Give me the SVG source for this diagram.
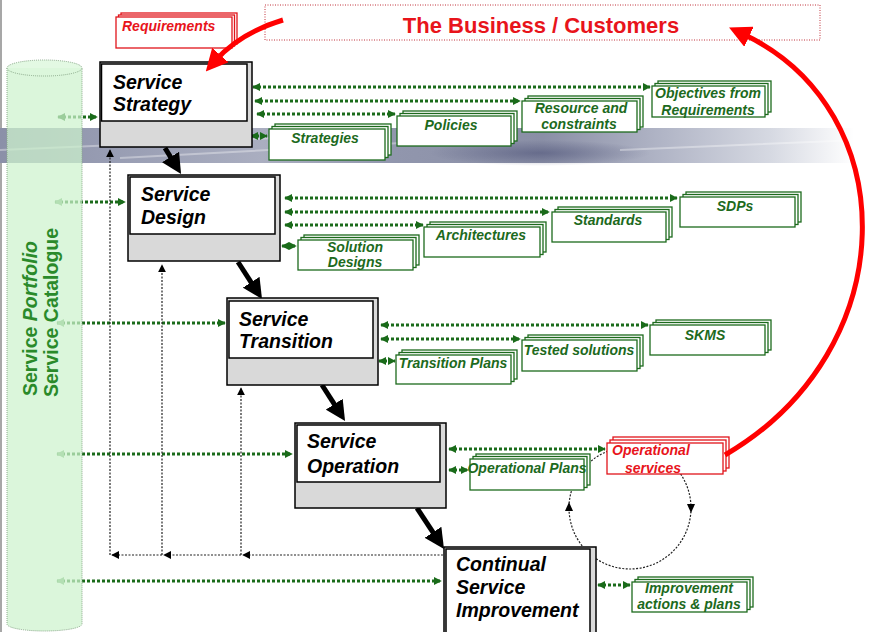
<svg xmlns="http://www.w3.org/2000/svg" width="876" height="632" viewBox="0 0 876 632">
<style>
.mo{fill:#d9d9d9;stroke:#000;stroke-width:1.5}
.mi{fill:#fff;stroke:#000;stroke-width:1.5}
.mt{font-family:"Liberation Sans",Arial,sans-serif;font-size:19.5px;font-weight:bold;font-style:italic;fill:#000}
.gb{fill:#fff;stroke:#1d6a1d;stroke-width:1.3}
.gt{font-family:"Liberation Sans",Arial,sans-serif;font-size:14px;font-weight:bold;font-style:italic;fill:#1d6a1d;text-anchor:middle}
.rb{fill:#fff;stroke:#e0141b;stroke-width:1.3}
.rt{font-family:"Liberation Sans",Arial,sans-serif;font-size:14px;font-weight:bold;font-style:italic;fill:#e8141b}
.gc{fill:none;stroke:#1a6b1a;stroke-width:3;stroke-dasharray:3 2}
.bc{fill:none;stroke:#222;stroke-width:1.2;stroke-dasharray:2 1.5}
.th{fill:none;stroke:#000;stroke-width:5}
.rc{fill:none;stroke:#f00;stroke-width:5}
.ct{font-family:"Liberation Sans",Arial,sans-serif;font-size:19.5px;font-weight:bold;fill:#2a8a2a}
</style>
<defs>
<linearGradient id="bandH" x1="0" y1="0" x2="1" y2="0">
<stop offset="0" stop-color="#8b90a8"/>
<stop offset="0.12" stop-color="#979cb2"/>
<stop offset="0.3" stop-color="#aaaec0"/>
<stop offset="0.45" stop-color="#9196ad"/>
<stop offset="0.62" stop-color="#8a8fa6"/>
<stop offset="0.76" stop-color="#b2b6c7"/>
<stop offset="0.88" stop-color="#d6d9e2"/>
<stop offset="0.975" stop-color="#ffffff"/>
</linearGradient>
<radialGradient id="blob" cx="0.5" cy="0.5" r="0.5">
<stop offset="0" stop-color="#50557a" stop-opacity="0.6"/>
<stop offset="1" stop-color="#50557a" stop-opacity="0"/>
</radialGradient>
<marker id="ga" viewBox="0 0 10 10" refX="9" refY="5" markerWidth="8" markerHeight="8" markerUnits="userSpaceOnUse" orient="auto-start-reverse"><path d="M0,0 L10,5 L0,10 Z" fill="#1a6b1a"/></marker>
<marker id="gl" viewBox="0 0 10 10" refX="9" refY="5" markerWidth="8" markerHeight="8" markerUnits="userSpaceOnUse" orient="auto-start-reverse"><path d="M0,0 L10,5 L0,10 Z" fill="#6fae6f"/></marker>
<marker id="ba" viewBox="0 0 10 10" refX="9" refY="5" markerWidth="8" markerHeight="8" markerUnits="userSpaceOnUse" orient="auto"><path d="M0,0 L10,5 L0,10 Z" fill="#000"/></marker>
<marker id="ta" viewBox="0 0 10 10" refX="3" refY="5" markerWidth="4" markerHeight="4" markerUnits="strokeWidth" orient="auto"><path d="M0,0 L10,5 L0,10 Z" fill="#000"/></marker>
<marker id="ra" viewBox="0 0 10 10" refX="3" refY="5" markerWidth="4.4" markerHeight="4.4" markerUnits="strokeWidth" orient="auto"><path d="M0,0 L10,5 L0,10 Z" fill="#f00"/></marker>
</defs>
<rect width="876" height="632" fill="#fff"/>
<line x1="1" y1="0" x2="1" y2="632" stroke="#8a8a8a" stroke-width="1.5"/>
<g id="band">
<rect x="0" y="128" width="876" height="35" fill="url(#bandH)"/>
<ellipse cx="540" cy="153" rx="110" ry="13" fill="url(#blob)"/>
<path d="M0 150 L300 137 M120 158 L420 142 M620 150 L860 140" stroke="#fff" stroke-opacity="0.35" stroke-width="2" fill="none"/>
</g>

<g id="connectors">
<g id="green-links">
<path class="gc" d="M253 87 H650" marker-start="url(#ga)" marker-end="url(#ga)"/>
<path class="gc" d="M255 101 H520" marker-start="url(#ga)" marker-end="url(#ga)"/>
<path class="gc" d="M257 114 H395" marker-start="url(#ga)" marker-end="url(#ga)"/>
<path class="gc" d="M251 136 H267" marker-start="url(#ga)" marker-end="url(#ga)"/>
<path class="gc" d="M285 198 H677" marker-start="url(#ga)" marker-end="url(#ga)"/>
<path class="gc" d="M285 212 H549" marker-start="url(#ga)" marker-end="url(#ga)"/>
<path class="gc" d="M285 225 H423" marker-start="url(#ga)" marker-end="url(#ga)"/>
<path class="gc" d="M282 246 H296" marker-start="url(#ga)" marker-end="url(#ga)"/>
<path class="gc" d="M381 325 H648" marker-start="url(#ga)" marker-end="url(#ga)"/>
<path class="gc" d="M381 339 H520" marker-start="url(#ga)" marker-end="url(#ga)"/>
<path class="gc" d="M379 361 H395" marker-start="url(#ga)" marker-end="url(#ga)"/>
<path class="gc" d="M449 449 H605" marker-start="url(#ga)" marker-end="url(#ga)"/>
<path class="gc" d="M449 470 H468" marker-start="url(#ga)" marker-end="url(#ga)"/>
<path class="gc" d="M598 585 H630" marker-start="url(#ga)" marker-end="url(#ga)"/>
<path class="gc" d="M58 117 H97" marker-start="url(#ga)" marker-end="url(#ga)"/>
<path class="gc" d="M55 202 H125" marker-start="url(#gl)" marker-end="url(#ga)"/>
<path class="gc" d="M57 323 H225" marker-start="url(#gl)" marker-end="url(#ga)"/>
<path class="gc" d="M57 454 H292" marker-start="url(#gl)" marker-end="url(#ga)"/>
<path class="gc" d="M57 581 H441" marker-start="url(#gl)" marker-end="url(#ga)"/>
</g>
<g id="feedback">
<path class="bc" d="M443 555 H243" marker-end="url(#ba)"/>
<path class="bc" d="M241 555 H164" marker-end="url(#ba)"/>
<path class="bc" d="M162 555 H112" marker-end="url(#ba)"/>
<path class="bc" d="M110 555 V150" marker-end="url(#ba)"/>
<path class="bc" d="M162 555 V265" marker-end="url(#ba)"/>
<path class="bc" d="M241 555 V388" marker-end="url(#ba)"/>
<circle class="bc" cx="630" cy="508" r="61"/>
<path d="M569 502 L565 511 L573 511 Z" fill="#000"/>
<path d="M691 513 L687 504 L695 504 Z" fill="#000"/>
</g>
<g id="flow">
<line class="th" x1="165" y1="148" x2="173.7" y2="162.1" marker-end="url(#ta)"/>
<line class="th" x1="238" y1="262" x2="254.4" y2="287.3" marker-end="url(#ta)"/>
<line class="th" x1="322" y1="385" x2="337.5" y2="409.2" marker-end="url(#ta)"/>
<line class="th" x1="417" y1="508" x2="436.3" y2="537.3" marker-end="url(#ta)"/>
</g>
</g>

<g id="cylinder">
<path d="M7 68 V624 A37.5 7 0 0 0 82 624 V68" fill="#cdf3cd" fill-opacity="0.72" stroke="#8aa88a" stroke-width="1" stroke-dasharray="1 1"/>
<ellipse cx="44.5" cy="68" rx="37.5" ry="8" fill="#dcf7dc" fill-opacity="0.8" stroke="#8aa88a" stroke-width="1" stroke-dasharray="1 1"/>
<text class="ct" transform="translate(37,396) rotate(-90)">Service <tspan font-style="italic">Portfolio</tspan></text>
<text class="ct" transform="translate(58,397) rotate(-90)">Service Catalogue</text>
</g>

<g id="business">
<rect x="265" y="5" width="555" height="35" fill="none" stroke="#c0303a" stroke-width="1" stroke-dasharray="1 1.5"/>
<text x="541" y="33" font-family="Liberation Sans, Arial, sans-serif" font-size="22" font-weight="bold" fill="#e8141b" text-anchor="middle">The Business / Customers</text>
</g>

<g id="requirements">
<rect class="rb" x="121" y="13" width="116" height="31"/>
<rect class="rb" x="118.5" y="15" width="116" height="31"/>
<rect class="rb" x="116" y="17" width="116" height="31"/>
<text class="rt" x="122" y="31">Requirements</text>
</g>

<g id="service-strategy">
<rect class="mo" x="100" y="62" width="152" height="85"/>
<rect class="mi" x="101.5" y="64" width="145.5" height="57"/>
<text class="mt" x="113" y="89">Service</text>
<text class="mt" x="113" y="111">Strategy</text>
</g>
<g id="service-design">
<rect class="mo" x="128" y="175" width="152" height="86"/>
<rect class="mi" x="130" y="177" width="145" height="57"/>
<text class="mt" x="141" y="201">Service</text>
<text class="mt" x="141" y="224">Design</text>
</g>
<g id="service-transition">
<rect class="mo" x="227" y="298" width="151" height="87"/>
<rect class="mi" x="229" y="301" width="144" height="57"/>
<text class="mt" x="239" y="326">Service</text>
<text class="mt" x="239" y="348">Transition</text>
</g>
<g id="service-operation">
<rect class="mo" x="295" y="423" width="151" height="85"/>
<rect class="mi" x="297" y="425" width="143" height="57"/>
<text class="mt" x="307" y="448">Service</text>
<text class="mt" x="307" y="473">Operation</text>
</g>
<g id="csi">
<rect class="mo" x="444" y="547" width="152" height="95"/>
<rect class="mi" x="446" y="549" width="144" height="90"/>
<text class="mt" x="456" y="571">Continual</text>
<text class="mt" x="456" y="594">Service</text>
<text class="mt" x="456" y="617">Improvement</text>
</g>

<g id="objectives">
<rect class="gb" x="658" y="81" width="113" height="31"/>
<rect class="gb" x="655" y="83.5" width="113" height="31"/>
<rect class="gb" x="652" y="86" width="113" height="31"/>
<text class="gt" x="708" y="98">Objectives from</text>
<text class="gt" x="708" y="115">Requirements</text>
</g>
<g id="resource">
<rect class="gb" x="528" y="96" width="115" height="31"/>
<rect class="gb" x="525" y="98.5" width="115" height="31"/>
<rect class="gb" x="522" y="101" width="115" height="31"/>
<text class="gt" x="581" y="113">Resource and</text>
<text class="gt" x="579" y="129">constraints</text>
</g>
<g id="policies">
<rect class="gb" x="403" y="111" width="114" height="30"/>
<rect class="gb" x="400" y="113.5" width="114" height="30"/>
<rect class="gb" x="397" y="116" width="114" height="30"/>
<text class="gt" x="451" y="130">Policies</text>
</g>
<g id="strategies">
<rect class="gb" x="275" y="124" width="116" height="31"/>
<rect class="gb" x="272" y="126.5" width="116" height="31"/>
<rect class="gb" x="269" y="129" width="116" height="31"/>
<text class="gt" x="325" y="143">Strategies</text>
</g>

<g id="sdps">
<rect class="gb" x="686" y="192" width="115" height="30"/>
<rect class="gb" x="683" y="194.5" width="115" height="30"/>
<rect class="gb" x="680" y="197" width="115" height="30"/>
<text class="gt" x="735" y="211">SDPs</text>
</g>
<g id="standards">
<rect class="gb" x="558" y="207" width="114" height="30"/>
<rect class="gb" x="555" y="209.5" width="114" height="30"/>
<rect class="gb" x="552" y="212" width="114" height="30"/>
<text class="gt" x="608" y="225">Standards</text>
</g>
<g id="architectures">
<rect class="gb" x="430" y="222" width="116" height="30"/>
<rect class="gb" x="427" y="224.5" width="116" height="30"/>
<rect class="gb" x="424" y="227" width="116" height="30"/>
<text class="gt" x="481" y="240">Architectures</text>
</g>
<g id="solution-designs">
<rect class="gb" x="304" y="235" width="115" height="30"/>
<rect class="gb" x="301" y="237.5" width="115" height="30"/>
<rect class="gb" x="298" y="240" width="115" height="30"/>
<text class="gt" x="355" y="252">Solution</text>
<text class="gt" x="355" y="267">Designs</text>
</g>

<g id="skms">
<rect class="gb" x="656" y="320" width="115" height="30"/>
<rect class="gb" x="653" y="322.5" width="115" height="30"/>
<rect class="gb" x="650" y="325" width="115" height="30"/>
<text class="gt" x="705" y="340">SKMS</text>
</g>
<g id="tested-solutions">
<rect class="gb" x="528" y="335" width="115" height="31"/>
<rect class="gb" x="525" y="337.5" width="115" height="31"/>
<rect class="gb" x="522" y="340" width="115" height="31"/>
<text class="gt" x="579" y="355">Tested solutions</text>
</g>
<g id="transition-plans">
<rect class="gb" x="402" y="350" width="115" height="29"/>
<rect class="gb" x="399" y="352.5" width="115" height="29"/>
<rect class="gb" x="396" y="355" width="115" height="29"/>
<text class="gt" x="453" y="368">Transition Plans</text>
</g>

<g id="operational-plans">
<rect class="gb" x="476" y="454" width="114" height="31"/>
<rect class="gb" x="473" y="456.5" width="114" height="31"/>
<rect class="gb" x="470" y="459" width="114" height="31"/>
<text class="gt" x="527" y="473">Operational Plans</text>
</g>
<g id="operational-services">
<rect class="rb" x="613" y="437" width="116" height="31"/>
<rect class="rb" x="610" y="440" width="116" height="31"/>
<rect class="rb" x="607" y="443" width="116" height="31"/>
<text class="rt" x="612" y="455">Operational</text>
<text class="rt" x="653" y="473" text-anchor="middle">services</text>
</g>
<g id="improvement-actions">
<rect class="gb" x="638" y="577" width="115" height="30"/>
<rect class="gb" x="635" y="579.5" width="115" height="30"/>
<rect class="gb" x="632" y="582" width="115" height="30"/>
<text class="gt" x="689" y="593">Improvement</text>
<text class="gt" x="689" y="609">actions &amp; plans</text>
</g>

<g id="red-arrows">
<path class="rc" d="M283 20 Q240 33 216 60" marker-end="url(#ra)"/>
<path class="rc" d="M725 455 C905 350 905 110 743 34" marker-end="url(#ra)"/>
</g>
</svg>
